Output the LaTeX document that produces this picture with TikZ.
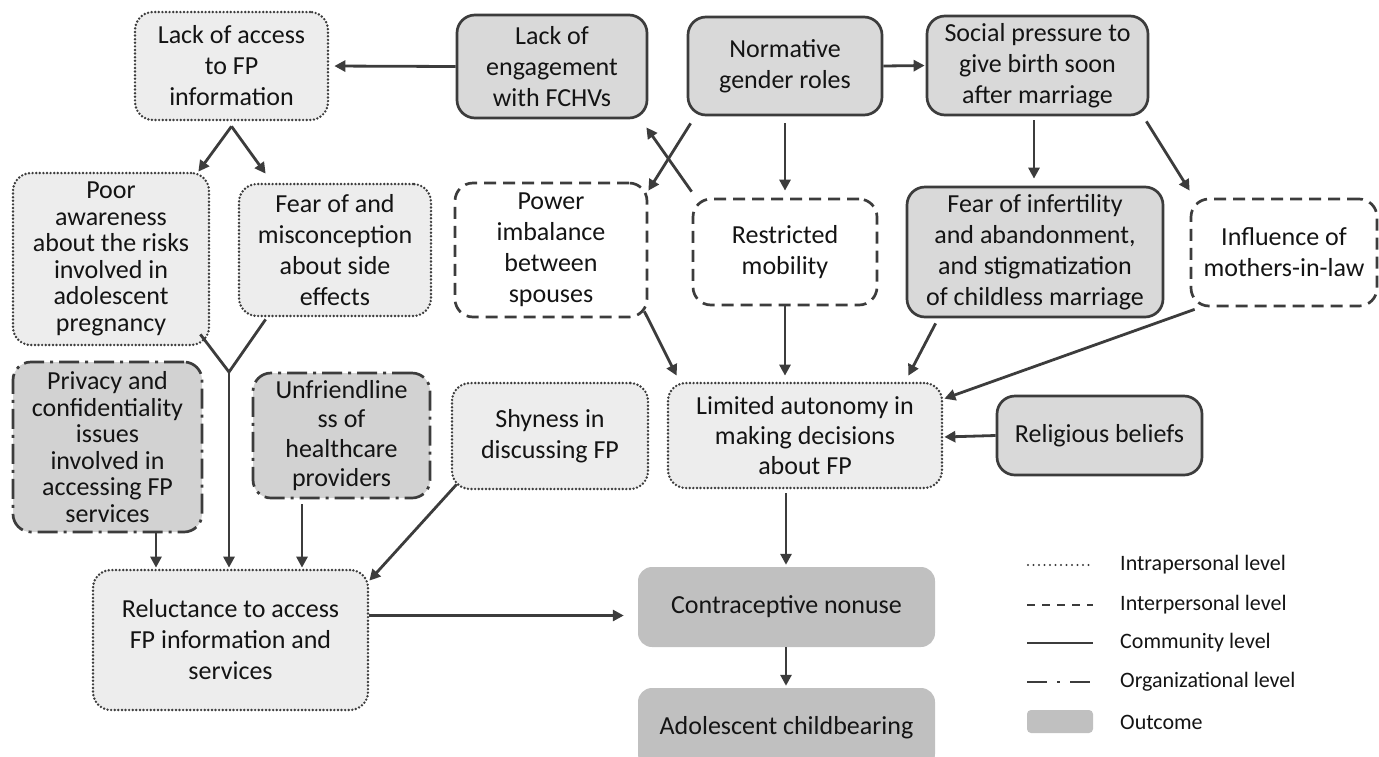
\documentclass[tikz,border=0pt]{standalone}
\usepackage{fontspec}
\setmainfont{Carlito}
\usetikzlibrary{arrows.meta,calc}
\definecolor{lc}{HTML}{3C3C3C}
\definecolor{tc}{HTML}{141414}
\definecolor{intraF}{HTML}{EDEDED}
\definecolor{commF}{HTML}{D9D9D9}
\definecolor{orgF}{HTML}{D2D2D2}
\definecolor{outF}{HTML}{C0C0C0}
\tikzset{
  base/.style={rounded corners=18pt, align=center, inner sep=0pt, text=tc,
    font=\fontsize{26}{31}\selectfont},
  intra/.style={base, draw=lc, line width=2.7pt, line cap=round,
    dash pattern=on 0pt off 3.6pt, fill=intraF},
  inter/.style={base, draw=lc, line width=2.7pt, dash pattern=on 12pt off 7pt, fill=white},
  comm/.style={base, draw=lc, line width=2.7pt, fill=commF},
  org/.style={base, draw=lc, line width=2.7pt, dash pattern=on 20pt off 6pt on 3pt off 6pt, fill=orgF},
  outc/.style={base, rounded corners=14pt, fill=outF},
  conn/.style={draw=lc, line width=2.8pt},
  arr/.style={conn, -{Triangle[length=11pt,width=11pt]}},
  leg/.style={font=\fontsize{22}{26}\selectfont, text=tc, inner sep=0pt, anchor=west},
  tight/.style={font=\fontsize{26}{26.5}\selectfont}
}
\begin{document}
\begin{tikzpicture}[x=1pt,y=-1pt]
\useasboundingbox (0,0) rectangle (1379,756);
% nodes
\node[intra, minimum width=193pt, minimum height=108pt] (acc) at (231.5,66) {Lack of access\\to FP\\information};
\node[comm, minimum width=190pt, minimum height=103pt] (eng) at (552,66.5) {Lack of\\engagement\\with FCHVs};
\node[comm, minimum width=194pt, minimum height=98pt] (ngr) at (785,66) {Normative\\gender roles};
\node[comm, minimum width=221pt, minimum height=99pt] (soc) at (1037.5,65.5) {Social pressure to\\give birth soon\\after marriage};
\node[intra, tight, minimum width=196pt, minimum height=172pt] (poor) at (111,259) {Poor\\awareness\\about the risks\\involved in\\adolescent\\pregnancy};
\node[intra, minimum width=192pt, minimum height=132pt] (fear) at (335,250) {Fear of and\\misconception\\about side\\effects};
\node[inter, minimum width=192pt, minimum height=134pt] (pow) at (551,250) {Power\\imbalance\\between\\spouses};
\node[inter, minimum width=184pt, minimum height=106pt] (mob) at (785,252) {Restricted\\mobility};
\node[comm, minimum width=256pt, minimum height=130pt] (inf) at (1035,252) {Fear of infertility\\and abandonment,\\and stigmatization\\of childless marriage};
\node[inter, minimum width=186pt, minimum height=107pt] (mil) at (1284,252.5) {Influence of\\mothers-in-law};
\node[org, tight, minimum width=189pt, minimum height=170pt] (priv) at (107.5,447) {Privacy and\\confidentiality\\issues\\involved in\\accessing FP\\services};
\node[org, font=\fontsize{26}{29.5}\selectfont, minimum width=177pt, minimum height=125pt] (unf) at (341.5,435.5) {Unfriendline\\ss of\\healthcare\\providers};
\node[intra, minimum width=196pt, minimum height=106pt] (shy) at (550,436) {Shyness in\\discussing FP};
\node[intra, font=\fontsize{26}{30}\selectfont, minimum width=274pt, minimum height=105pt] (aut) at (805,435.5) {Limited autonomy in\\making decisions\\about FP};
\node[comm, minimum width=205pt, minimum height=79pt] (rel) at (1099.5,435.5) {Religious beliefs};
\node[intra, minimum width=275pt, minimum height=140pt] (rl) at (230.5,640) {Reluctance to access\\FP information and\\services};
\node[outc, minimum width=297pt, minimum height=80pt] (cn) at (786.5,607) {Contraceptive nonuse};
\node[outc, minimum width=297pt, minimum height=80pt] (ac) at (786.5,728) {Adolescent childbearing};
% connectors
\draw[arr, shorten >=5pt] (eng.west) -- (acc.east);
\draw[arr, shorten >=1pt] (ngr.east) -- (soc.west);
\coordinate (apex) at ($(acc.south)+(0,5)$);
\draw[arr] (apex) -- ($(poor.north east)+(-12,0)$);
\draw[arr] (apex) -- ($(fear.north west)+(28,-9)$);
\draw[arr] ($(ngr.south west)+(4,7)$) -- ($(pow.north east)+(0,9)$);
\draw[arr] ($(mob.north west)+(0,-6)$) -- ($(eng.south east)+(-2,8)$);
\draw[arr, shorten <=7pt, shorten >=7pt] (ngr.south) -- (mob.north);
\draw[arr, shorten <=4pt, shorten >=7pt] ([xshift=-3.5pt]soc.south) -- ([xshift=-3.5pt]soc.south |- inf.north);
\draw[arr] ($(soc.south east)+(-3,5)$) -- ($(mil.north west)+(0,-7)$);
\draw[arr] ($(pow.south east)+(-4,-7)$) -- ($(aut.north west)+(10,-6)$);
\draw[arr, shorten >=6pt] (mob.south) -- (mob.south |- aut.north);
\draw[arr] ($(inf.south west)+(30,5)$) -- ($(aut.north east)+(-35,-6)$);
\draw[arr] ($(mil.south west)+(5,2)$) -- ($(aut.north east)+(1,17)$);
\draw[arr, shorten >=1pt] (rel.west) -- ([yshift=-1.5pt]aut.east);
\draw[arr, shorten <=4pt, shorten >=2pt] ([xshift=-0.5pt]cn.north |- aut.south) -- ([xshift=-0.5pt]cn.north);
\draw[arr, shorten >=2pt] ([xshift=-0.5pt]cn.south) -- ([xshift=-0.5pt]ac.north);
\draw[arr, shorten >=14pt] ([yshift=24.5pt]rl.east) -- ([yshift=24.5pt]rl.east -| cn.west);
\coordinate (pv) at ($(priv.south)+(48.5,0)$);
\draw[arr, shorten >=1pt] (pv) -- (pv |- rl.north);
\coordinate (ym) at (229,372);
\draw[conn] ($(poor.south east)+(-10,-12)$) -- (ym) -- ($(fear.south west)+(28,2)$);
\draw[arr, shorten >=1pt] (ym) -- (ym |- rl.north);
\coordinate (uf) at ($(unf.south)+(-39.5,5)$);
\draw[arr, shorten >=1pt] (uf) -- (uf |- rl.north);
\draw[arr] ($(shy.south west)+(6,-6)$) -- ($(rl.north east)+(0,12)$);
% legend
\draw[draw=lc, line width=2.2pt, line cap=round, dash pattern=on 0pt off 5.5pt] (1028,565) -- (1093,565);
\draw[draw=lc, line width=2.7pt, dash pattern=on 8pt off 7pt] (1027,605) -- (1093,605);
\draw[draw=lc, line width=2.7pt] (1027,643) -- (1093,643);
\draw[draw=lc, line width=2.7pt, dash pattern=on 20pt off 10pt on 3pt off 10pt] (1027,682) -- (1093,682);
\fill[outF, rounded corners=4pt] (1027,710) rectangle (1093,733);
\node[leg] (l1) at (1120,565) {Intrapersonal level};
\node[leg] (l2) at (1120,605) {Interpersonal level};
\node[leg] (l3) at (1120,643) {Community level};
\node[leg] (l4) at (1120,682) {Organizational level};
\node[leg] (l5) at (1120,722) {Outcome};
\end{tikzpicture}
\end{document}
